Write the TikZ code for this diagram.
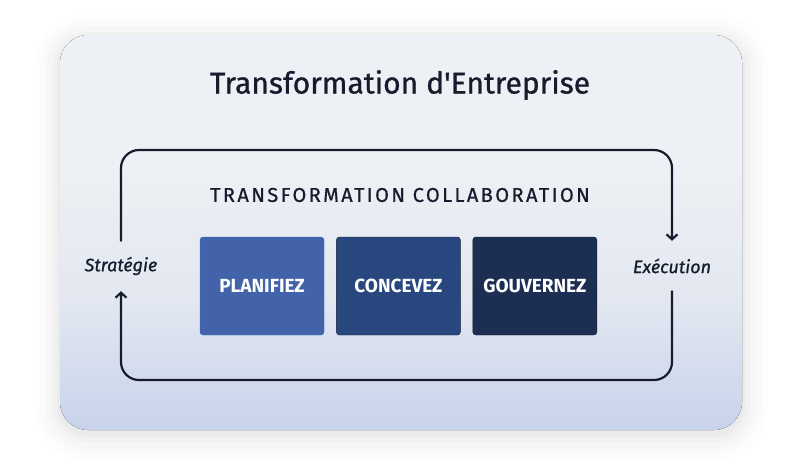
\documentclass[tikz,border=0pt]{standalone}
\usepackage{fontspec}
\setmainfont{Fira Sans}
\newfontfamily\mediumfont[FakeBold=0.9]{Fira Sans}
\newfontfamily\spacedfont[LetterSpace=12, FakeBold=0.7]{Fira Sans}
\usetikzlibrary{arrows.meta, positioning, calc}

\definecolor{ink}{HTML}{161C2E}
\definecolor{cardtop}{HTML}{EDF0F4}
\definecolor{cardmid}{HTML}{E3E8F1}
\definecolor{cardbot}{HTML}{C8D3EB}
\definecolor{planblue}{HTML}{4262AA}
\definecolor{planedge}{HTML}{2E7ACB}
\definecolor{concblue}{HTML}{29477F}
\definecolor{gouvblue}{HTML}{1C2E52}

\pgfdeclareverticalshading{cardshade}{100bp}{color(0bp)=(cardbot); color(25bp)=(cardbot);
    color(42bp)=(cardmid); color(58bp)=(cardtop); color(75bp)=(cardtop); color(100bp)=(cardtop)}

\tikzset{
    titletext/.style={text=ink, font=\mediumfont\fontsize{30}{36}\selectfont},
    subtext/.style={text=ink, font=\spacedfont\fontsize{20}{24}\selectfont},
    phase/.style={rounded corners=3pt, minimum width=124pt, minimum height=98pt,
        inner sep=0pt, text=white, font=\bfseries\fontsize{19}{23}\selectfont},
    sidetext/.style={text=ink, font=\mediumfont\itshape\fontsize{18}{22}\selectfont,
        minimum height=50pt, inner sep=0pt},
    cycleline/.style={draw=ink, line width=2.2pt, rounded corners=18pt},
    tip/.style={-{Straight Barb[length=5pt, width=11pt, line width=2.2pt]}}
}

\begin{document}
\begin{tikzpicture}[x=1pt, y=-1pt, line cap=round, line join=round]
    \useasboundingbox (0,0) rectangle (800,464);

    % soft shadow of the card
    \foreach \g/\r/\o in {26/54/0.008, 20/48/0.01, 14/42/0.014, 8/36/0.018, 3/31/0.025} {
            \fill[black, opacity=\o, rounded corners=\r pt] (60-\g, 40-\g) rectangle (742+\g, 434+\g);
        }

    % card
    \fill[rounded corners=28pt, shading=cardshade] (60,35) rectangle (742,430);

    % texts
    \node[titletext] (title) at (400,85) {Transformation d'Entreprise};
    \node[subtext] (collab) at (400,195) {TRANSFORMATION COLLABORATION};

    % phases
    \node[phase, fill=planblue, draw=planedge] (plan) at (262,286) {PLANIFIEZ};
    \node[phase, fill=concblue, draw=ink, right=12pt of plan] (conc) {CONCEVEZ};
    \node[phase, fill=gouvblue, draw=ink, right=12pt of conc] (gouv) {GOUVERNEZ};

    % cycle
    \node[sidetext] (strat) at (121,266) {Stratégie};
    \node[sidetext] (exec) at (672,266) {Exécution};
    \coordinate (topline) at (400,150);
    \coordinate (botline) at (400,380);

    \draw[cycleline, tip] (strat.north) -- (strat.north |- topline) -- (exec.north |- topline) -- (exec.north);
    \draw[cycleline, tip] (exec.south) -- (exec.south |- botline) -- (strat.south |- botline) -- (strat.south);
\end{tikzpicture}
\end{document}
